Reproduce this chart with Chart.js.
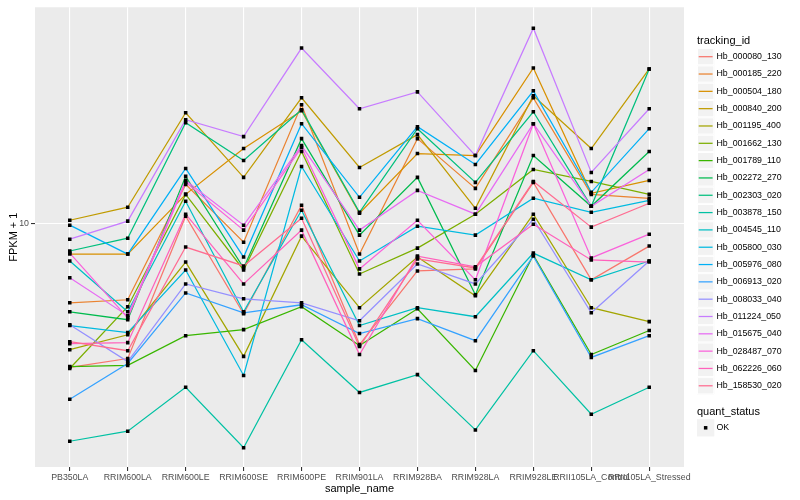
<!DOCTYPE html>
<html>
<head>
<meta charset="utf-8">
<script src="https://cdn.jsdelivr.net/npm/chart.js@4.4.1/dist/chart.umd.min.js"></script>
<style>
  body { margin: 0; background: #fff; }
  #wrap { width: 800px; height: 500px; }
</style>
</head>
<body>
<div id="wrap"><canvas id="chart" width="800" height="500"></canvas></div>
<script>
const samples = ['PB350LA', 'RRIM600LA', 'RRIM600LE', 'RRIM600SE', 'RRIM600PE', 'RRIM901LA',
  'RRIM928BA', 'RRIM928LA', 'RRIM928LE', 'RRII105LA_Control', 'RRII105LA_Stressed'];

const trackingIds = ['Hb_000080_130', 'Hb_000185_220', 'Hb_000504_180', 'Hb_000840_200', 'Hb_001195_400',
  'Hb_001662_130', 'Hb_001789_110', 'Hb_002272_270', 'Hb_002303_020', 'Hb_003878_150',
  'Hb_004545_110', 'Hb_005800_030', 'Hb_005976_080', 'Hb_006913_020', 'Hb_008033_040',
  'Hb_011224_050', 'Hb_015675_040', 'Hb_028487_070', 'Hb_062226_060', 'Hb_158530_020'];

// FPKM + 1 for each sample, one array per gene
const hb_000080_130 = [3.29, 3.52, 10.55, 4.97, 11.48, 3.92, 6.92, 7.03, 13.70, 6.46, 8.38];
const hb_000185_220 = [5.41, 5.54, 13.49, 8.64, 24.92, 7.88, 19.20, 13.08, 26.30, 12.49, 12.12];
const hb_000504_180 = [7.88, 7.88, 12.49, 17.78, 23.80, 10.80, 17.11, 16.85, 33.11, 12.59, 13.91];
const hb_000840_200 = [10.23, 11.31, 23.44, 14.24, 26.30, 15.37, 19.80, 11.22, 26.71, 17.78, 32.86];
const hb_001195_400 = [3.77, 4.23, 7.41, 3.58, 9.05, 5.21, 7.70, 5.71, 10.72, 5.21, 4.68];
const hb_001662_130 = [3.26, 5.25, 12.49, 6.97, 17.38, 6.76, 8.25, 10.72, 15.14, 13.80, 12.49];
const hb_001789_110 = [3.31, 3.34, 4.20, 4.40, 5.25, 3.89, 5.17, 3.21, 7.82, 3.63, 4.37];
const hb_002272_270 = [5.05, 4.75, 14.35, 7.08, 19.20, 9.12, 14.24, 5.76, 16.85, 11.39, 17.38];
const hb_002303_020 = [8.07, 8.91, 21.71, 16.22, 23.99, 10.88, 20.73, 13.70, 23.62, 11.39, 32.86];
const hb_003878_150 = [1.86, 2.01, 2.82, 1.77, 4.07, 2.71, 3.11, 2.03, 3.74, 2.29, 2.82];
const hb_004545_110 = [7.47, 5.05, 11.84, 5.05, 11.05, 4.54, 5.21, 4.86, 7.94, 6.46, 7.47];
const hb_005800_030 = [4.54, 4.30, 6.97, 3.09, 15.49, 7.47, 9.77, 9.12, 12.12, 10.88, 11.93];
const hb_005976_080 = [9.85, 7.88, 15.25, 7.70, 21.54, 12.21, 21.05, 15.73, 27.76, 12.69, 20.73];
const hb_006913_020 = [2.57, 3.39, 5.84, 5.01, 5.33, 4.27, 4.79, 4.04, 7.76, 3.55, 4.20];
const hb_008033_040 = [4.57, 3.44, 6.26, 5.58, 5.41, 4.71, 7.30, 6.26, 10.31, 5.01, 7.47];
const hb_011224_050 = [8.84, 10.16, 22.21, 19.50, 38.60, 24.17, 27.54, 16.85, 45.01, 14.79, 24.17];
const hb_015675_040 = [6.56, 4.90, 13.91, 9.85, 18.20, 9.48, 12.88, 10.72, 21.54, 11.39, 15.14];
const hb_028487_070 = [7.94, 4.82, 13.70, 9.48, 17.92, 7.03, 10.23, 6.46, 21.54, 7.65, 9.19];
const hb_062226_060 = [3.95, 3.98, 10.72, 6.26, 9.48, 3.63, 7.76, 7.14, 9.92, 7.53, 7.41];
const hb_158530_020 = [4.01, 3.74, 8.32, 7.19, 10.39, 3.86, 7.59, 7.08, 13.80, 9.70, 11.66];

const yTicks = [10];
const quantStatus = ['OK'];

const seriesValues = [hb_000080_130, hb_000185_220, hb_000504_180, hb_000840_200, hb_001195_400,
  hb_001662_130, hb_001789_110, hb_002272_270, hb_002303_020, hb_003878_150,
  hb_004545_110, hb_005800_030, hb_005976_080, hb_006913_020, hb_008033_040,
  hb_011224_050, hb_015675_040, hb_028487_070, hb_062226_060, hb_158530_020];

// ggplot default hue palette for 20 groups
const seriesColors = ['#F8766D', '#EA8331', '#D89000', '#C09B00', '#A3A500', '#7CAE00', '#39B600',
  '#00BB4E', '#00BF7D', '#00C1A3', '#00BFC4', '#00BAE0', '#00B0F6', '#35A2FF', '#9590FF',
  '#C77CFF', '#E76BF3', '#FA62DB', '#FF62BC', '#FF6C91'];

const FONT = '"Liberation Sans", Arial, sans-serif';
Chart.defaults.font.family = FONT;

const lineSets = seriesValues.map((vals, i) => ({
  label: trackingIds[i],
  data: vals.map((v, j) => ({ x: j, y: v })),
  borderColor: seriesColors[i],
  borderWidth: 1.25,
  pointRadius: 0,
  fill: false,
  tension: 0,
  order: 100 - i
}));

const pointSet = {
  label: quantStatus[0],
  data: seriesValues.flatMap(vals => vals.map((v, j) => ({ x: j, y: v }))),
  showLine: false,
  pointStyle: 'rect',
  pointRadius: 2.5,
  pointBackgroundColor: '#000',
  pointBorderWidth: 0,
  order: 0
};

const panelBg = {
  id: 'panelBg',
  beforeDraw(chart) {
    const { ctx, chartArea: a } = chart;
    ctx.save();
    ctx.fillStyle = '#EBEBEB';
    ctx.fillRect(a.left, a.top, a.right - a.left, a.bottom - a.top);
    ctx.restore();
  }
};

// ggplot style legends on the right
const sideLegend = {
  id: 'sideLegend',
  afterDraw(chart) {
    const ctx = chart.ctx;
    const x0 = 697, key = 17.3, step = 17.32;
    ctx.save();
    ctx.textBaseline = 'middle';
    ctx.textAlign = 'left';
    ctx.fillStyle = '#000';
    ctx.font = '11px ' + FONT;
    ctx.fillText('tracking_id', x0, 40.5);
    ctx.font = '8.8px ' + FONT;
    trackingIds.forEach((id, i) => {
      const cy = 56.7 + i * step;
      ctx.fillStyle = '#F2F2F2';
      ctx.fillRect(x0, cy - key / 2, key, key);
      ctx.strokeStyle = '#fff';
      ctx.lineWidth = 1;
      ctx.strokeRect(x0 + 0.5, cy - key / 2 + 0.5, key - 1, key - 1);
      ctx.strokeStyle = seriesColors[i];
      ctx.lineWidth = 1.25;
      ctx.beginPath();
      ctx.moveTo(x0 + 1.7, cy);
      ctx.lineTo(x0 + key - 1.7, cy);
      ctx.stroke();
      ctx.fillStyle = '#000';
      ctx.fillText(id, 716.5, cy);
    });
    ctx.font = '11px ' + FONT;
    ctx.fillText('quant_status', x0, 412.3);
    const qy = 427.8;
    ctx.fillStyle = '#F2F2F2';
    ctx.fillRect(x0, qy - key / 2, key, key);
    ctx.fillStyle = '#000';
    ctx.fillRect(x0 + key / 2 - 1.75, qy - 1.75, 3.5, 3.5);
    ctx.font = '8.8px ' + FONT;
    ctx.fillText(quantStatus[0], 716.5, qy);
    ctx.restore();
  }
};

new Chart(document.getElementById('chart'), {
  type: 'line',
  data: { datasets: [...lineSets, pointSet] },
  plugins: [panelBg, sideLegend],
  options: {
    responsive: false,
    animation: false,
    layout: { padding: { top: 5, right: 116, bottom: 0, left: 0 } },
    plugins: { legend: { display: false }, tooltip: { enabled: false } },
    scales: {
      x: {
        type: 'linear',
        min: -0.6,
        max: 10.6,
        afterBuildTicks: ax => { ax.ticks = samples.map((s, i) => ({ value: i })); },
        afterFit: ax => { ax.height = 33; },
        grid: { color: '#FFFFFF', lineWidth: 1.1, tickColor: '#333333', tickLength: 4 },
        border: { display: false },
        ticks: {
          autoSkip: false, maxRotation: 0, minRotation: 0, padding: 1,
          color: '#4D4D4D', font: { size: 8.8 },
          callback: v => samples[v]
        },
        title: { display: true, text: 'sample_name', color: '#000', font: { size: 11 }, padding: { top: 0, bottom: 4 } }
      },
      y: {
        type: 'logarithmic',
        min: 1.525,
        max: 52.88,
        afterBuildTicks: ax => { ax.ticks = yTicks.map(v => ({ value: v })); },
        afterFit: ax => { ax.width = 35; },
        grid: { color: '#FFFFFF', lineWidth: 1.1, tickColor: '#333333', tickLength: 4 },
        border: { display: false },
        ticks: { padding: 2, color: '#4D4D4D', font: { size: 8.8 }, callback: v => String(v) },
        title: { display: true, text: 'FPKM + 1', color: '#000', font: { size: 11 }, padding: { top: 7, bottom: 0 } }
      }
    }
  }
});
</script>
</body>
</html>
